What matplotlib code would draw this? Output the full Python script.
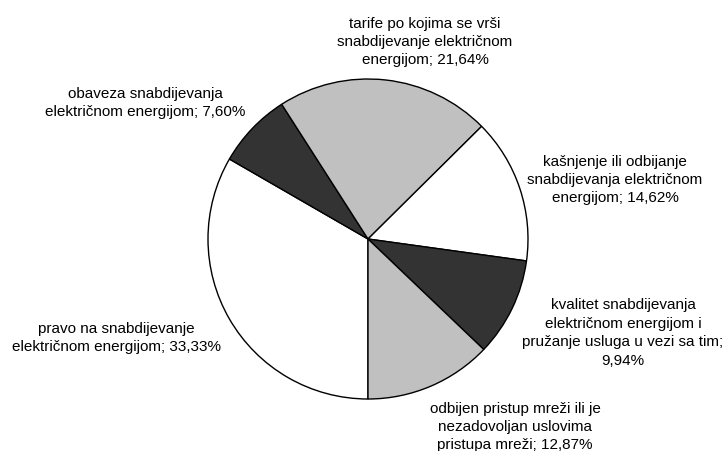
import matplotlib
matplotlib.use("Agg")
import matplotlib.pyplot as plt

categories = [
    "pravo na snabdijevanje električnom energijom",
    "obaveza snabdijevanja električnom energijom",
    "tarife po kojima se vrši snabdijevanje električnom energijom",
    "kašnjenje ili odbijanje snabdijevanja električnom energijom",
    "kvalitet snabdijevanja električnom energijom i pružanje usluga u vezi sa tim",
    "odbijen pristup mreži ili je nezadovoljan uslovima pristupa mreži",
]
values = [33.33, 7.60, 21.64, 14.62, 9.94, 12.87]
colors = ["#ffffff", "#333333", "#c0c0c0", "#ffffff", "#333333", "#c0c0c0"]

label_texts = [
    "pravo na snabdijevanje\nelektričnom energijom; 33,33%",
    "obaveza snabdijevanja\nelektričnom energijom; 7,60%",
    "tarife po kojima se vrši\nsnabdijevanje električnom\nenergijom; 21,64%",
    "kašnjenje ili odbijanje\nsnabdijevanja električnom\nenergijom; 14,62%",
    "kvalitet snabdijevanja\nelektričnom energijom i\npružanje usluga u vezi sa tim;\n9,94%",
    "odbijen pristup mreži ili je\nnezadovoljan uslovima\npristupa mreži; 12,87%",
]
# label centers in pixel coords (x, y from top)
label_pos = [(116, 338), (145, 103), (425, 42), (615, 180), (623, 333), (515, 427)]

W, H = 724, 452
fig = plt.figure(figsize=(W / 100, H / 100), dpi=100)
ax = fig.add_axes([0, 0, 1, 1])
ax.pie(values, startangle=-90, counterclock=False, colors=colors,
       center=(368, H - 240), radius=160,
       wedgeprops=dict(edgecolor="black", linewidth=1.0))
ax.set_xlim(0, W)
ax.set_ylim(0, H)
ax.set_aspect("equal")
ax.axis("off")

for t, (x, y) in zip(label_texts, label_pos):
    ax.text(x, H - y, t, ha="center", va="center", fontsize=11,
            family="Liberation Sans", linespacing=1.4, color="black")

fig.savefig("out.png", dpi=100, facecolor="white")
